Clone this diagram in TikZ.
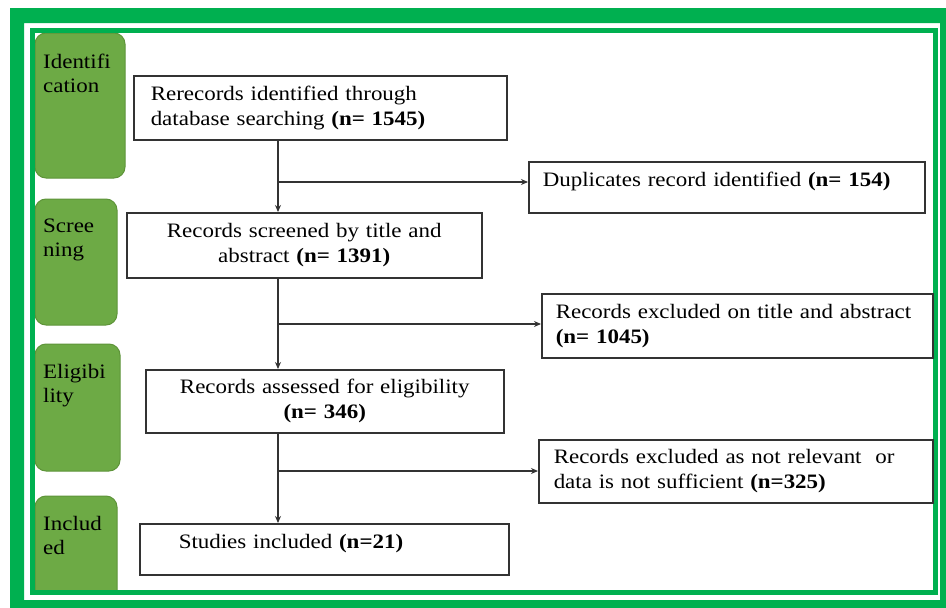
\documentclass[tikz,border=0pt]{standalone}
\usepackage{fontspec}
\setmainfont{Liberation Serif}[FakeStretch=1.12]
\usetikzlibrary{arrows.meta}
\definecolor{framegreen}{HTML}{00B050}
\definecolor{stagegreen}{HTML}{6DAA45}
\definecolor{stageedge}{HTML}{5E9439}
\tikzset{
    recbox/.style={draw=black!80, line width=1.5pt, anchor=north west, inner ysep=0pt, font=\fontsize{20.5}{25}\selectfont},
    toptext/.style={text height=25pt, text depth=26pt},
    stage/.style={fill=stagegreen, draw=stageedge, line width=1pt, rounded corners=11pt},
    stagelabel/.style={anchor=north west, inner sep=0pt, align=left, font=\fontsize{20.5}{24}\selectfont},
    flow/.style={draw=black!80, line width=1.3pt, -{Stealth[length=7pt,width=6pt]}}
}
\begin{document}
\begin{tikzpicture}[x=1pt,y=-1pt]
    \useasboundingbox (0,0) rectangle (946,608);
    \fill[framegreen, even odd rule] (10,8) rectangle (960,620) (24,23) rectangle (940,600);

    \draw[stage] (35,33) rectangle (125,178);
    \draw[stage] (35,199) rectangle (117,325);
    \draw[stage] (35,344) rectangle (120,471);
    \draw[stage] (35,592) |- (117,496) -- (117,592);
    \draw[framegreen, line width=5pt] (32.5,30.5) rectangle (935,592.5);

    \node[stagelabel] (lid) at (43,54) {Identifi\\cation};
    \node[stagelabel] (lscr) at (43,219) {Scree\\ning};
    \node[stagelabel] (lelig) at (43,364) {Eligibi\\lity};
    \node[stagelabel] (lincl) at (43,516) {Includ\\ed};

    \node[recbox, inner xsep=17pt, text width=339pt, align=left, minimum height=64pt] (ident) at (133,75) {Rerecords identified through\\database searching \textbf{(n= 1545)}};
    \node[recbox, inner xsep=6pt, text width=343pt, align=center, minimum height=65pt] (screen) at (126,212) {Records screened by title and\\abstract \textbf{(n= 1391)}};
    \node[recbox, inner xsep=6pt, text width=346pt, align=center, minimum height=63pt] (assess) at (145,369) {Records assessed for eligibility\\\textbf{(n= 346)}};
    \node[recbox, toptext, inner xsep=39pt, text width=291pt, align=left] (incl) at (139,523) {Studies included \textbf{(n=21)}};

    \node[recbox, toptext, inner xsep=14pt, text width=368pt, align=left] (dup) at (528,161) {Duplicates record identified \textbf{(n= 154)}};
    \node[recbox, inner xsep=14pt, text width=363pt, align=left, minimum height=64pt] (excl1) at (541,293) {Records excluded on title and abstract\\\textbf{(n= 1045)}};
    \node[recbox, inner xsep=15pt, text width=364pt, align=left, minimum height=63pt] (excl2) at (538,439) {Records excluded as not relevant\ \ or\\data is not sufficient \textbf{(n=325)}};

    \coordinate (spine) at (278,0);
    \coordinate (b1) at (278,182);
    \coordinate (b2) at (278,324);
    \coordinate (b3) at (278,471);

    \draw[flow] (ident.south -| spine) -- (screen.north -| spine);
    \draw[flow] (screen.south -| spine) -- (assess.north -| spine);
    \draw[flow] (assess.south -| spine) -- (incl.north -| spine);
    \draw[flow] (b1) -- (b1 -| dup.west);
    \draw[flow] (b2) -- (b2 -| excl1.west);
    \draw[flow] (b3) -- (b3 -| excl2.west);
\end{tikzpicture}
\end{document}
